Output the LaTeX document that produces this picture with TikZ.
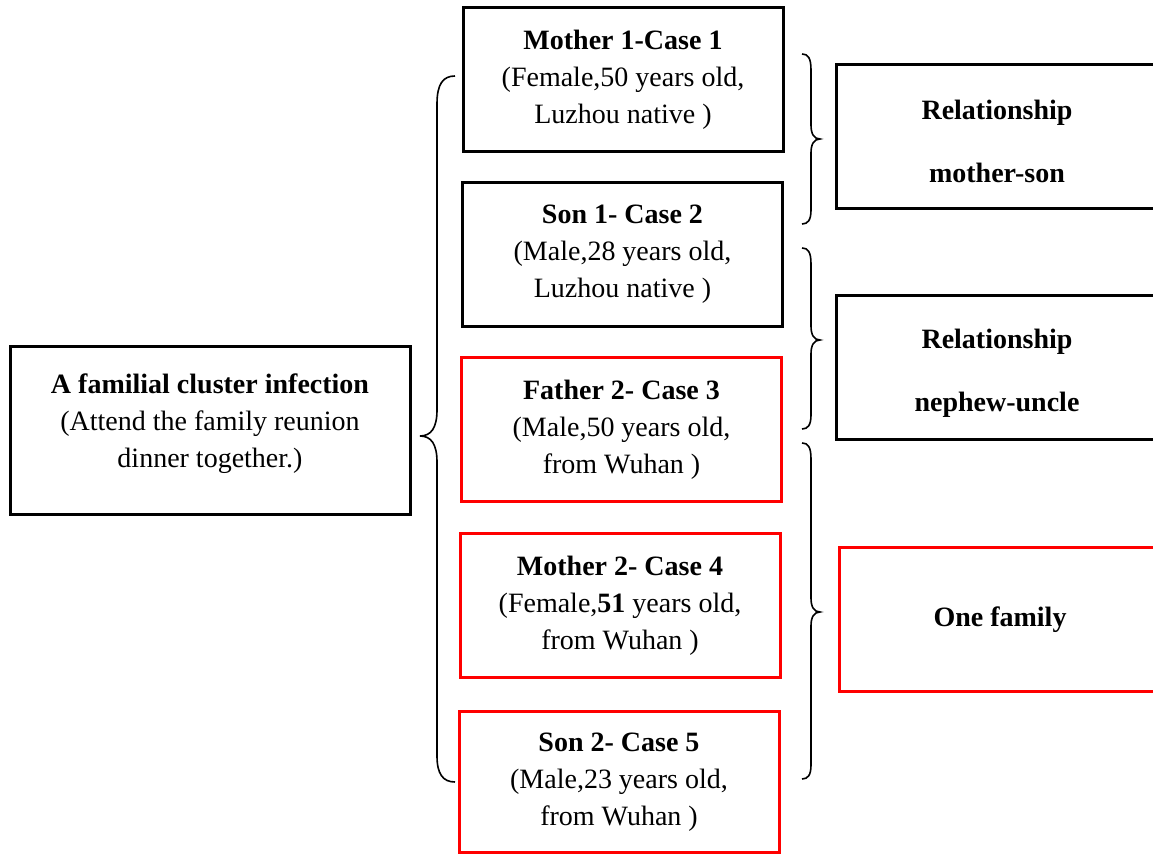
\documentclass[tikz,border=0pt]{standalone}
\usepackage{fontspec}
\setmainfont{Liberation Serif}
\begin{document}
\begin{tikzpicture}[x=0.5pt,y=-0.5pt,
  outline/.style={draw=#1,line width=1.5pt,align=center,inner sep=0pt,
    minimum width=160pt,minimum height=72pt,font=\fontsize{14}{18.5}\selectfont},
  curly/.style={draw=black,line width=0.8pt}]
\useasboundingbox (0,0) rectangle (1153,855);
\clip (0,0) rectangle (1153,855);
\node[outline=black,minimum width=200pt,minimum height=84pt] (cluster) at (210,431)
  {\textbf{A familial cluster infection}\\(Attend the family reunion\\dinner together.)\\[-8.5pt]};
\node[outline=black] (mother1) at (623,80)
  {\textbf{Mother 1-Case 1}\\(Female,50 years old,\\Luzhou native )};
\node[outline=black] (son1) at (622.5,254.5)
  {\textbf{Son 1- Case 2}\\(Male,28 years old,\\Luzhou native )};
\node[outline=red] (father2) at (621.5,429.5)
  {\textbf{Father 2- Case 3}\\(Male,50 years old,\\from Wuhan )};
\node[outline=red] (mother2) at (620,606)
  {\textbf{Mother 2- Case 4}\\(Female,\textbf{51} years old,\\from Wuhan )};
\node[outline=red,minimum height=70.5pt] (son2) at (619,782.5)
  {\textbf{Son 2- Case 5}\\(Male,23 years old,\\from Wuhan )};
\node[outline=black,minimum width=161pt] (rel1) at (997,136.5)
  {\rule{0pt}{14.5pt}\textbf{Relationship}\\[13pt]\textbf{mother-son}};
\node[outline=black,minimum width=161pt] (rel2) at (997,368)
  {\rule{0pt}{14.5pt}\textbf{Relationship}\\[13pt]\textbf{nephew-uncle}};
\node[outline=red,minimum width=161pt] (family) at (1000,620)
  {\textbf{One family}};
% braces
\draw[curly] (455,76) .. controls (443,76) and (437,84) .. (437,104) -- (437,410)
  .. controls (437,428) and (431,436) .. (420,436) .. controls (431,436) and (437,444) .. (437,462)
  -- (437,756) .. controls (437,774) and (443,782) .. (455,782);
\draw[curly] (802,54) .. controls (808,54) and (811,58) .. (811,70) -- (811,125)
  .. controls (811,134) and (814,139) .. (820,139) .. controls (814,139) and (811,144) .. (811,153)
  -- (811,210) .. controls (811,220) and (808,224) .. (802,224);
\draw[curly] (802,248) .. controls (808,248) and (811,252) .. (811,264) -- (811,326)
  .. controls (811,335) and (814,340) .. (820,340) .. controls (814,340) and (811,345) .. (811,354)
  -- (811,415) .. controls (811,425) and (808,429) .. (802,429);
\draw[curly] (802,443) .. controls (808,443) and (811,447) .. (811,459) -- (811,598)
  .. controls (811,607) and (814,612) .. (820,612) .. controls (814,612) and (811,617) .. (811,626)
  -- (811,765) .. controls (811,775) and (808,779) .. (802,779);
\end{tikzpicture}
\end{document}
